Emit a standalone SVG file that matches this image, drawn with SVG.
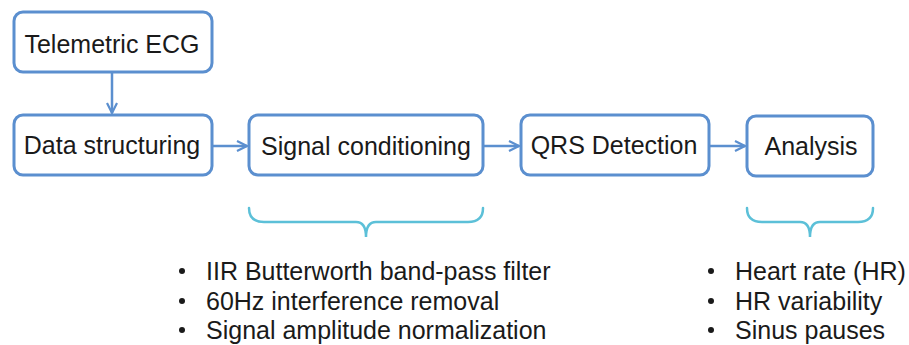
<svg xmlns="http://www.w3.org/2000/svg" width="909" height="345" viewBox="0 0 909 345">
  <defs>
    <style>
      .box { fill: #ffffff; stroke: #5b8fcf; stroke-width: 3; }
      .label { font-family: "Liberation Sans", Arial, sans-serif; font-size: 25px; fill: #1a1a1a; text-anchor: middle; }
      .item { font-family: "Liberation Sans", Arial, sans-serif; font-size: 25px; fill: #1a1a1a; }
      .link { fill: none; stroke: #5b8fcf; stroke-width: 2.5; }
      .brace { fill: none; stroke: #5cc0d8; stroke-width: 2.5; stroke-linecap: round; }
      .dot { fill: #1a1a1a; }
    </style>
    <marker id="arrowhead" viewBox="0 0 12 12" refX="11" refY="6" markerWidth="12" markerHeight="12" markerUnits="userSpaceOnUse" orient="auto">
      <path d="M1,1 L11,6 L1,11" fill="none" stroke="#5b8fcf" stroke-width="2.2" stroke-linejoin="miter"/>
    </marker>
  </defs>
  <rect width="909" height="345" fill="#ffffff"/>

  <!-- connectors -->
  <g id="connectors">
    <path class="link" d="M112,72 V113" marker-end="url(#arrowhead)"/>
    <path class="link" d="M212,146 H247" marker-end="url(#arrowhead)"/>
    <path class="link" d="M483,146 H519" marker-end="url(#arrowhead)"/>
    <path class="link" d="M709,146 H745" marker-end="url(#arrowhead)"/>
  </g>

  <!-- process nodes -->
  <g id="telemetric-ecg">
    <rect class="box" x="14" y="12" width="198" height="60" rx="9"/>
    <text class="label" x="112" y="53">Telemetric ECG</text>
  </g>
  <g id="data-structuring">
    <rect class="box" x="14" y="115" width="198" height="60" rx="9"/>
    <text class="label" x="112" y="154">Data structuring</text>
  </g>
  <g id="signal-conditioning">
    <rect class="box" x="249" y="115" width="234" height="60" rx="9"/>
    <text class="label" x="366" y="155">Signal conditioning</text>
  </g>
  <g id="qrs-detection">
    <rect class="box" x="521" y="115" width="188" height="60" rx="9"/>
    <text class="label" x="614" y="154">QRS Detection</text>
  </g>
  <g id="analysis">
    <rect class="box" x="747" y="116" width="126" height="60" rx="9"/>
    <text class="label" x="811" y="155">Analysis</text>
  </g>

  <!-- braces grouping the details -->
  <path class="brace" d="M249,208 Q249,222 264,222 H356 Q366,222 366,237 Q366,222 376,222 H468 Q483,222 483,208"/>
  <path class="brace" d="M747,208 Q747,222 762,222 H800 Q810,222 810,237 Q810,222 820,222 H858 Q873,222 873,208"/>

  <!-- signal conditioning details -->
  <g id="conditioning-details">
    <circle class="dot" cx="182" cy="271" r="3"/>
    <circle class="dot" cx="182" cy="301" r="3"/>
    <circle class="dot" cx="182" cy="330" r="3"/>
    <text class="item" x="206" y="280">IIR Butterworth band-pass filter</text>
    <text class="item" x="206" y="310">60Hz interference removal</text>
    <text class="item" x="206" y="339">Signal amplitude normalization</text>
  </g>

  <!-- analysis details -->
  <g id="analysis-details">
    <circle class="dot" cx="711" cy="271" r="3"/>
    <circle class="dot" cx="711" cy="301" r="3"/>
    <circle class="dot" cx="711" cy="330" r="3"/>
    <text class="item" x="735" y="280">Heart rate (HR)</text>
    <text class="item" x="735" y="310">HR variability</text>
    <text class="item" x="735" y="339">Sinus pauses</text>
  </g>
</svg>
